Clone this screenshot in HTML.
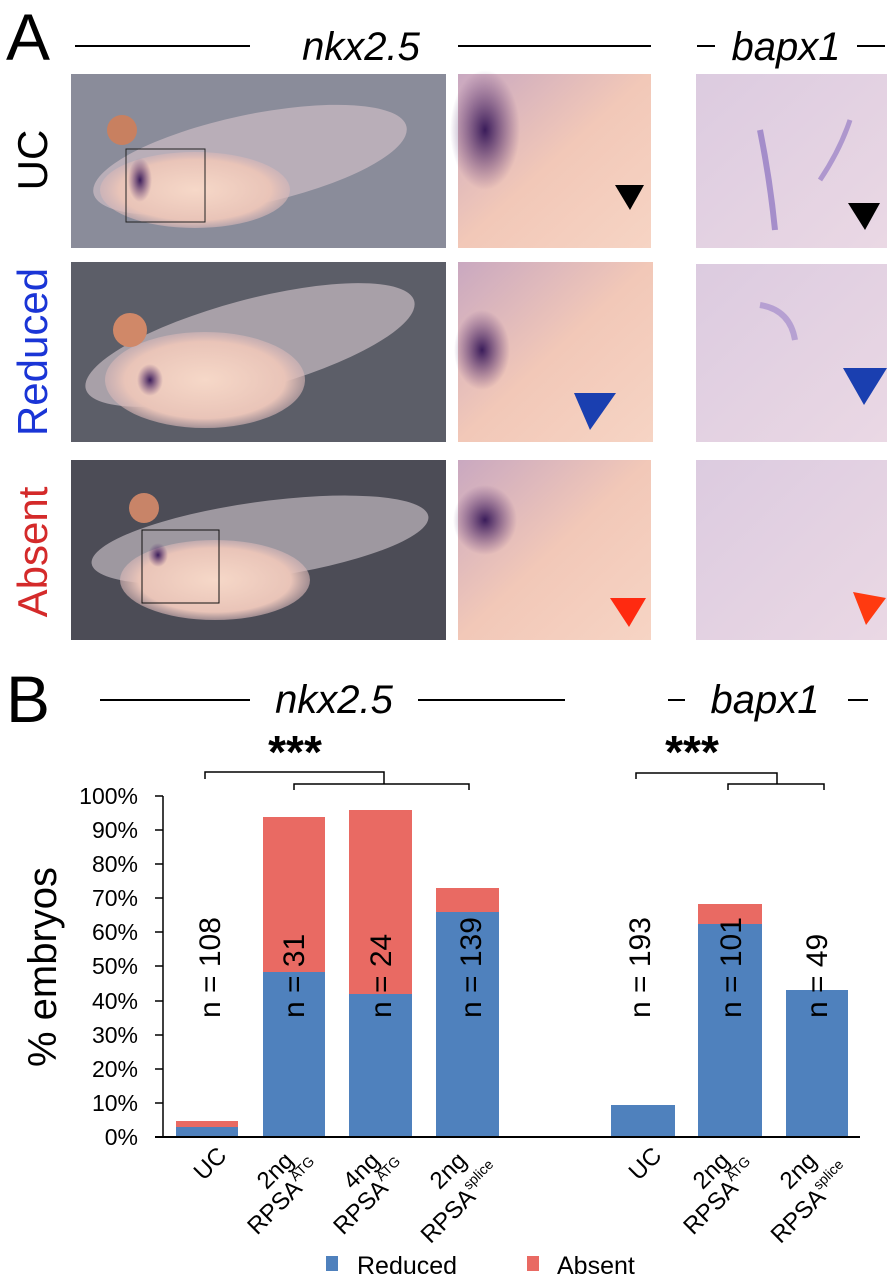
<!DOCTYPE html>
<html><head><meta charset="utf-8"><style>
html,body{margin:0;padding:0;background:#fff;}
svg{display:block;font-family:"Liberation Sans",Arial,sans-serif;}
</style></head><body>
<svg width="890" height="1280" viewBox="0 0 890 1280" xmlns="http://www.w3.org/2000/svg">
<defs>
<radialGradient id="emb" cx="0.5" cy="0.5" r="0.5"><stop offset="0" stop-color="#f6d8c8"/><stop offset="0.8" stop-color="#e9c4b8"/><stop offset="1" stop-color="#d9b8b8" stop-opacity="0.6"/></radialGradient>
<radialGradient id="purp" cx="0.5" cy="0.5" r="0.5"><stop offset="0" stop-color="#3a1c5a"/><stop offset="1" stop-color="#5a3070" stop-opacity="0"/></radialGradient>
<linearGradient id="zoomc" x1="0" y1="0" x2="1" y2="1"><stop offset="0" stop-color="#c9a8c0"/><stop offset="0.5" stop-color="#f2c8b8"/><stop offset="1" stop-color="#f6d4c4"/></linearGradient>
<linearGradient id="bap" x1="0" y1="0" x2="1" y2="1"><stop offset="0" stop-color="#dccbe0"/><stop offset="1" stop-color="#ead8e4"/></linearGradient>
</defs>
<text x="6" y="60" font-size="66">A</text>
<line x1="75" y1="46" x2="250" y2="46" stroke="#000" stroke-width="2"/>
<text x="361" y="60" font-size="40" font-style="italic" text-anchor="middle">nkx2.5</text>
<line x1="458" y1="46" x2="651" y2="46" stroke="#000" stroke-width="2"/>
<line x1="697" y1="46" x2="715" y2="46" stroke="#000" stroke-width="2"/>
<text x="786" y="60" font-size="40" font-style="italic" text-anchor="middle">bapx1</text>
<line x1="857" y1="46" x2="885" y2="46" stroke="#000" stroke-width="2"/>
<text transform="translate(47,160) rotate(-90)" font-size="42" text-anchor="middle">UC</text>
<text transform="translate(47,352) rotate(-90)" font-size="42" text-anchor="middle" fill="#1a35d6">Reduced</text>
<text transform="translate(47,552) rotate(-90)" font-size="42" text-anchor="middle" fill="#d42a2a">Absent</text>
<rect x="71" y="74" width="375" height="174" fill="#8a8c9a"/>
<ellipse cx="250" cy="160" rx="160" ry="45" fill="#b9aeb8" transform="rotate(-12 250 160)"/>
<ellipse cx="195" cy="190" rx="95" ry="38" fill="url(#emb)"/>
<circle cx="122" cy="130" r="15" fill="#c88060"/>
<ellipse cx="140" cy="180" rx="12" ry="22" fill="url(#purp)"/>
<rect x="126" y="149" width="79" height="73" fill="none" stroke="#222" stroke-width="1"/>
<rect x="458" y="74" width="193" height="174" fill="url(#zoomc)"/>
<ellipse cx="485" cy="130" rx="35" ry="60" fill="url(#purp)"/>
<polygon points="615,185 644,185 630,210" fill="#000"/>
<rect x="696" y="74" width="191" height="174" fill="url(#bap)"/>
<path d="M760,130 Q770,180 775,230" stroke="#8a70c0" stroke-width="6" fill="none" opacity="0.7"/>
<path d="M850,120 Q840,150 820,180" stroke="#8a70c0" stroke-width="5" fill="none" opacity="0.6"/>
<polygon points="848,203 880,203 865,230" fill="#000"/>
<rect x="71" y="262" width="375" height="180" fill="#5c5e68"/>
<ellipse cx="250" cy="345" rx="170" ry="45" fill="#a8a0a8" transform="rotate(-15 250 345)"/>
<ellipse cx="205" cy="380" rx="100" ry="48" fill="url(#emb)"/>
<circle cx="130" cy="330" r="17" fill="#d08868"/>
<ellipse cx="150" cy="380" rx="13" ry="16" fill="url(#purp)"/>
<rect x="458" y="262" width="195" height="180" fill="url(#zoomc)"/>
<ellipse cx="482" cy="350" rx="28" ry="40" fill="url(#purp)"/>
<polygon points="574,393 616,393 590,430" fill="#1a3fb0"/>
<rect x="696" y="264" width="191" height="178" fill="url(#bap)"/>
<path d="M760,305 Q790,310 795,340" stroke="#9a80c8" stroke-width="6" fill="none" opacity="0.6"/>
<polygon points="843,368 887,368 864,405" fill="#1a3fb0"/>
<rect x="71" y="460" width="375" height="180" fill="#4c4c56"/>
<ellipse cx="260" cy="540" rx="170" ry="38" fill="#9e98a0" transform="rotate(-8 260 540)"/>
<ellipse cx="215" cy="580" rx="95" ry="40" fill="url(#emb)"/>
<circle cx="144" cy="508" r="15" fill="#c88468"/>
<ellipse cx="158" cy="555" rx="10" ry="12" fill="url(#purp)"/>
<rect x="142" y="530" width="77" height="73" fill="none" stroke="#111" stroke-width="1"/>
<rect x="458" y="460" width="193" height="180" fill="url(#zoomc)"/>
<ellipse cx="485" cy="520" rx="32" ry="35" fill="url(#purp)"/>
<polygon points="610,598 646,598 629,627" fill="#ff2a10"/>
<rect x="696" y="460" width="191" height="180" fill="url(#bap)"/>
<polygon points="853,592 886,598 866,625" fill="#ff3a10"/>
<text x="6" y="722" font-size="66">B</text>
<line x1="100" y1="700" x2="250" y2="700" stroke="#000" stroke-width="2"/>
<text x="334" y="713" font-size="40" font-style="italic" text-anchor="middle">nkx2.5</text>
<line x1="418" y1="700" x2="565" y2="700" stroke="#000" stroke-width="2"/>
<line x1="668" y1="700" x2="685" y2="700" stroke="#000" stroke-width="2"/>
<text x="765" y="713" font-size="40" font-style="italic" text-anchor="middle">bapx1</text>
<line x1="848" y1="700" x2="868" y2="700" stroke="#000" stroke-width="2"/>
<text x="295" y="768" font-size="46" font-weight="bold" text-anchor="middle">***</text>
<text x="692" y="768" font-size="46" font-weight="bold" text-anchor="middle">***</text>
<g stroke="#000" stroke-width="1.5" fill="none">
<path d="M205,779 V772 H384 V784"/>
<path d="M294,790 V784 H469 V790"/>
<path d="M636,779 V773 H777 V784"/>
<path d="M728,790 V784 H824 V790"/>
</g>
<text transform="translate(56,967) rotate(-90)" font-size="40" text-anchor="middle">% embryos</text>
<g font-size="23" text-anchor="end">
<text x="138" y="804">100%</text><text x="138" y="838">90%</text><text x="138" y="872">80%</text><text x="138" y="906">70%</text><text x="138" y="940">60%</text><text x="138" y="974">50%</text><text x="138" y="1009">40%</text><text x="138" y="1043">30%</text><text x="138" y="1077">20%</text><text x="138" y="1111">10%</text><text x="138" y="1145">0%</text>
</g>
<g stroke="#000" stroke-width="1.5">
<line x1="163" y1="796" x2="163" y2="1137"/>
<line x1="155" y1="796" x2="163" y2="796"/><line x1="155" y1="830" x2="163" y2="830"/><line x1="155" y1="864" x2="163" y2="864"/><line x1="155" y1="898" x2="163" y2="898"/><line x1="155" y1="932" x2="163" y2="932"/><line x1="155" y1="966" x2="163" y2="966"/><line x1="155" y1="1001" x2="163" y2="1001"/><line x1="155" y1="1035" x2="163" y2="1035"/><line x1="155" y1="1069" x2="163" y2="1069"/><line x1="155" y1="1103" x2="163" y2="1103"/>
</g>
<g>
<rect x="176" y="1121" width="62" height="6" fill="#e96a63"/><rect x="176" y="1127" width="62" height="10" fill="#4f81bd"/>
<rect x="263" y="817" width="62" height="155" fill="#e96a63"/><rect x="263" y="972" width="62" height="165" fill="#4f81bd"/>
<rect x="349" y="810" width="63" height="184" fill="#e96a63"/><rect x="349" y="994" width="63" height="143" fill="#4f81bd"/>
<rect x="436" y="888" width="63" height="24" fill="#e96a63"/><rect x="436" y="912" width="63" height="225" fill="#4f81bd"/>
<rect x="611" y="1105" width="64" height="32" fill="#4f81bd"/>
<rect x="698" y="904" width="64" height="20" fill="#e96a63"/><rect x="698" y="924" width="64" height="213" fill="#4f81bd"/>
<rect x="786" y="990" width="62" height="147" fill="#4f81bd"/>
</g>
<line x1="155" y1="1137" x2="860" y2="1137" stroke="#000" stroke-width="2"/>
<g font-size="30" text-anchor="start">
<text transform="translate(220,1018) rotate(-90)">n = 108</text>
<text transform="translate(304,1018) rotate(-90)">n = 31</text>
<text transform="translate(391,1018) rotate(-90)">n = 24</text>
<text transform="translate(481,1018) rotate(-90)">n = 139</text>
<text transform="translate(650,1018) rotate(-90)">n = 193</text>
<text transform="translate(741,1018) rotate(-90)">n = 101</text>
<text transform="translate(827,1018) rotate(-90)">n = 49</text>
</g>
<g font-size="24" text-anchor="end">
<text transform="translate(228,1157) rotate(-45)">UC</text>
<text transform="translate(295,1162) rotate(-45)">2ng</text>
<text transform="translate(323,1170) rotate(-45)">RPSA<tspan font-size="14" dy="-11">ATG</tspan></text>
<text transform="translate(381,1162) rotate(-45)">4ng</text>
<text transform="translate(409,1170) rotate(-45)">RPSA<tspan font-size="14" dy="-11">ATG</tspan></text>
<text transform="translate(468,1162) rotate(-45)">2ng</text>
<text transform="translate(502,1173) rotate(-45)">RPSA<tspan font-size="14" dy="-11">splice</tspan></text>
<text transform="translate(663,1157) rotate(-45)">UC</text>
<text transform="translate(731,1162) rotate(-45)">2ng</text>
<text transform="translate(759,1170) rotate(-45)">RPSA<tspan font-size="14" dy="-11">ATG</tspan></text>
<text transform="translate(818,1162) rotate(-45)">2ng</text>
<text transform="translate(852,1173) rotate(-45)">RPSA<tspan font-size="14" dy="-11">splice</tspan></text>
</g>
<rect x="326" y="1256" width="12" height="15" fill="#4f81bd"/>
<text x="357" y="1274" font-size="25">Reduced</text>
<rect x="527" y="1256" width="12" height="15" fill="#e96a63"/>
<text x="557" y="1274" font-size="25">Absent</text>
</svg>
</body></html>
